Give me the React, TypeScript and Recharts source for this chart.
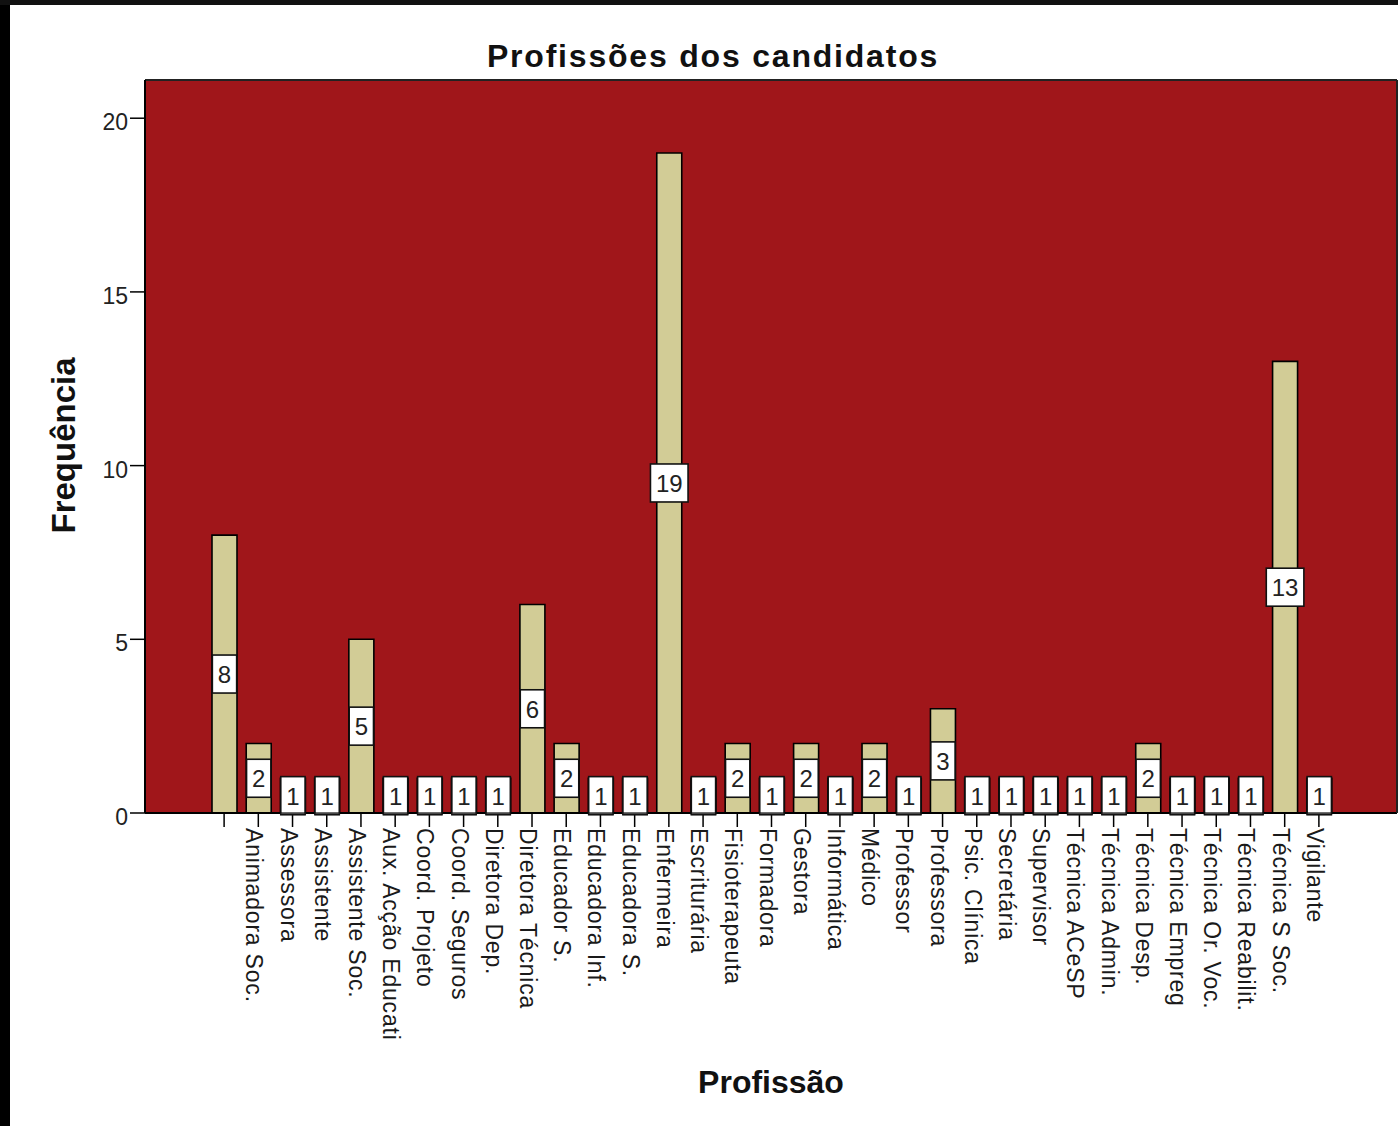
import React from "react";
import { BarChart, Bar, XAxis, YAxis, CartesianGrid, LabelList, Label } from "recharts";

const categories = [
  "", "Animadora Soc.", "Assessora", "Assistente", "Assistente Soc.", "Aux. Acção Educati",
  "Coord. Projeto", "Coord. Seguros", "Diretora Dep.", "Diretora Técnica", "Educador S.",
  "Educadora Inf.", "Educadora S.", "Enfermeira", "Escriturária", "Fisioterapeuta", "Formadora",
  "Gestora", "Informática", "Médico", "Professor", "Professora", "Psic. Clínica", "Secretária",
  "Supervisor", "Técnica ACeSP", "Técnica Admin.", "Técnica Desp.", "Técnica Empreg",
  "Técnica Or. Voc.", "Técnica Reabilit.", "Técnica S Soc.", "Vigilante",
];
const frequencies = [8, 2, 1, 1, 5, 1, 1, 1, 1, 6, 2, 1, 1, 19, 1, 2, 1, 2, 1, 2, 1, 3, 1, 1, 1, 1, 1, 2, 1, 1, 1, 13, 1];
const yTicks = [0, 5, 10, 15, 20];
const chartTitle = "Profissões dos candidatos";
const xTitle = "Profissão";
const yTitle = "Frequência";

const data = categories.map((name, i) => ({ name, value: frequencies[i] }));

const FONT = "'Liberation Sans', Arial, sans-serif";

const XTick = (props: any) => {
  const { x, y, payload } = props;
  return (
    <g transform={`translate(${x},${y})`}>
      <text transform="rotate(90)" x={0} y={12} textAnchor="start" fontSize={23} letterSpacing={0.8} fill="#1a1a1a" fontFamily={FONT}>
        {payload.value}
      </text>
    </g>
  );
};

const YTick = (props: any) => {
  const { x, y, payload } = props;
  return (
    <text x={x} y={y + 12} textAnchor="end" fontSize={23} fill="#222" fontFamily={FONT}>
      {payload.value}
    </text>
  );
};

const BarLabel = (props: any) => {
  const { x, y, width, height, value } = props;
  if (x == null || y == null) return null;
  const cx = x + width / 2;
  const cy = y + height / 2;
  const s = String(value);
  const w = s.length * 13.3 + 11;
  const h = 38;
  const bottom = y + height;
  const boxBottom = cy + h / 2;
  return (
    <g>
      <rect x={cx - w / 2} y={cy - h / 2} width={w} height={h} fill="#fff" stroke="#111" strokeWidth={1.6} />
      {boxBottom > bottom && (
        <rect x={cx - w / 2} y={bottom} width={w} height={boxBottom - bottom} fill="#9a9a9a" stroke="#111" strokeWidth={1.2} />
      )}
      <text x={cx} y={cy + 9} textAnchor="middle" fontSize={24} fill="#222" fontFamily={FONT}>
        {s}
      </text>
    </g>
  );
};

export default function App() {
  return (
    <div style={{ position: "absolute", left: 0, top: 0, width: 1398, height: 1126, background: "#fff", overflow: "hidden" }}>
      <div style={{ position: "absolute", left: 0, top: 0, width: 10, height: 1126, background: "#000" }} />
      <div style={{ position: "absolute", left: 0, top: 0, width: 1398, height: 5, background: "#111" }} />
      <div style={{ position: "absolute", left: 0, top: 0 }}>
        <BarChart width={1398} height={1126} data={data} margin={{ top: 79, right: 0, left: 0, bottom: 0 }}>
          <CartesianGrid fill="#A0161A" horizontal={false} vertical={false} />
          <XAxis
            dataKey="name"
            type="category"
            interval={0}
            height={313}
            padding={{ left: 62, right: 61 }}
            tickSize={14}
            tickMargin={1}
            tick={<XTick />}
            tickLine={{ stroke: "#000", strokeWidth: 1.5 }}
            axisLine={{ stroke: "#000", strokeWidth: 2 }}
          >
            <Label
              content={(p: any) => {
                const vb = p.viewBox || { x: 145, y: 813, width: 1252 };
                return (
                  <text x={vb.x + vb.width / 2} y={vb.y + 280} textAnchor="middle" fontSize={32} fontWeight="bold" fill="#111" fontFamily={FONT}>
                    {xTitle}
                  </text>
                );
              }}
            />
          </XAxis>
          <XAxis
            xAxisId="top"
            dataKey="name"
            type="category"
            orientation="top"
            height={1}
            tick={false}
            tickLine={false}
            axisLine={{ stroke: "#222", strokeWidth: 2 }}
          >
            <Label
              content={(p: any) => {
                const vb = p.viewBox || { x: 145, y: 79 };
                return (
                  <text x={713} y={vb.y - 12} textAnchor="middle" fontSize={32} fontWeight="bold" letterSpacing={1.8} fill="#111" fontFamily={FONT}>
                    {chartTitle}
                  </text>
                );
              }}
            />
          </XAxis>
          <YAxis
            type="number"
            domain={[0, 21.1]}
            ticks={yTicks}
            allowDataOverflow
            width={145}
            tickSize={15}
            tickMargin={2}
            tick={<YTick />}
            tickLine={{ stroke: "#000", strokeWidth: 1.5 }}
            axisLine={{ stroke: "#000", strokeWidth: 2 }}
          >
            <Label
              content={(p: any) => {
                const vb = p.viewBox || { x: 0, y: 80, width: 145, height: 733 };
                const cy = vb.y + vb.height / 2 - 1;
                return (
                  <text x={75} y={cy} transform={`rotate(-90 75 ${cy})`} textAnchor="middle" fontSize={33} fontWeight="bold" fill="#111" fontFamily={FONT}>
                    {yTitle}
                  </text>
                );
              }}
            />
          </YAxis>
          <YAxis
            yAxisId="right"
            orientation="right"
            type="number"
            domain={[0, 21.1]}
            width={1}
            tick={false}
            tickLine={false}
            axisLine={{ stroke: "#222", strokeWidth: 2 }}
          />
          <Bar dataKey="value" fill="#D2CC96" stroke="#000" strokeWidth={1.6} barSize={25} isAnimationActive={false}>
            <LabelList dataKey="value" content={<BarLabel />} />
          </Bar>
        </BarChart>
      </div>
    </div>
  );
}
